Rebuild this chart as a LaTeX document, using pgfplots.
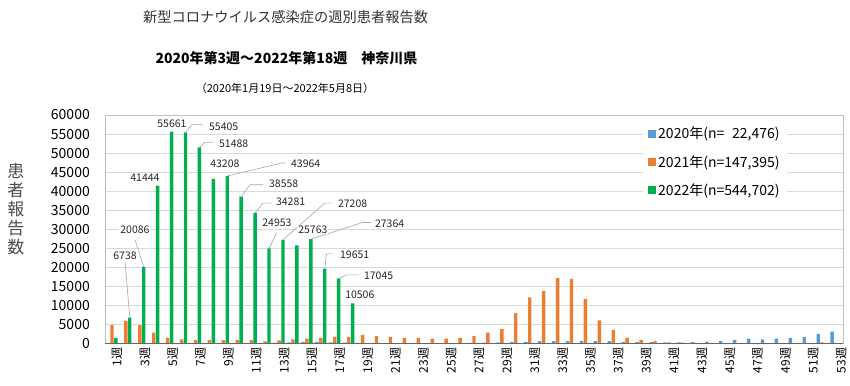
\documentclass[border=0pt]{standalone}
\usepackage{fontspec}
\setmainfont{Noto Sans CJK JP}
\usepackage{pgfplots}
\pgfplotsset{compat=1.18}
\usepackage{pgfplotstable}

\definecolor{c20}{HTML}{5B9BD5}
\definecolor{c21}{HTML}{ED7D31}
\definecolor{c22}{HTML}{00B050}
\definecolor{gridc}{HTML}{D9D9D9}
\definecolor{boxc}{HTML}{BFBFBF}
\definecolor{lead}{HTML}{A6A6A6}

% 2020 weekly counts
\pgfplotstableread{
w v
3 1
4 0
5 0
6 3
7 10
8 15
9 15
10 20
11 20
12 40
13 100
14 220
15 380
16 380
17 250
18 150
19 80
20 40
21 25
22 30
23 20
24 20
25 30
26 60
27 120
28 200
29 260
30 280
31 350
32 580
33 600
34 600
35 600
36 580
37 580
38 350
39 300
40 330
41 270
42 260
43 280
44 350
45 600
46 900
47 1200
48 1050
49 1200
50 1400
51 1700
52 2500
53 3100
}\dataA

% 2021 weekly counts
\pgfplotstableread{
w v
1 4800
2 5900
3 4800
4 2800
5 1400
6 1000
7 850
8 850
9 850
10 850
11 850
12 500
13 800
14 1000
15 1200
16 1400
17 1700
18 1700
19 2200
20 1900
21 1700
22 1400
23 1400
24 1200
25 1200
26 1400
27 1900
28 2800
29 3700
30 7900
31 12100
32 13700
33 17100
34 16900
35 11700
36 6000
37 3500
38 1400
39 900
40 550
41 250
42 150
43 80
44 60
45 50
46 50
47 50
48 50
49 60
50 70
51 100
52 250
}\dataB

% 2022 weekly counts
\pgfplotstableread{
w v
1 1379
2 6738
3 20086
4 41444
5 55661
6 55405
7 51488
8 43208
9 43964
10 38558
11 34281
12 24953
13 27208
14 25763
15 27364
16 19651
17 17045
18 10506
}\dataC

\begin{document}
\begin{tikzpicture}
\begin{axis}[
  at={(0,0)}, anchor=south west,
  scale only axis, width=738pt, height=228.3pt,
  ybar=0.5pt, bar width=3.4pt,
  xmin=0.5, xmax=53.5, ymin=0, ymax=60000,
  ytick={0,5000,...,60000},
  scaled y ticks=false,
  /pgf/number format/assume math mode=true,
  yticklabel style={/pgf/number format/1000 sep={}, font=\fontsize{14}{14}\selectfont, inner sep=0pt, xshift=-15pt},
  xtick={1,3,...,53},
  xticklabels={1週,3週,5週,7週,9週,11週,13週,15週,17週,19週,21週,23週,25週,27週,29週,31週,33週,35週,37週,39週,41週,43週,45週,47週,49週,51週,53週},
  xticklabel style={rotate=90, anchor=east, inner sep=0pt, yshift=-5pt, font=\fontsize{12}{12}\selectfont},
  tick style={draw=none},
  ymajorgrids, grid style={gridc, line width=0.8pt},
  axis line style={boxc, line width=0.8pt},
  legend style={at={(rel axis cs:0.729,0.975)}, anchor=north west, draw=none, fill=white,
    font=\fontsize{14}{14}\selectfont, row sep=11pt, inner xsep=5pt, inner ysep=4pt},
  legend cell align=left,
  legend image code/.code={\fill[#1,draw=none] (0pt,-4pt) rectangle (8pt,4pt);},
]
\addplot[fill=c20, draw=none] table[x=w,y=v]{\dataA};
\addlegendentry{2020年(n=\phantom{1}22,476)}
\addplot[fill=c21, draw=none] table[x=w,y=v]{\dataB};
\addlegendentry{2021年(n=147,395)}
\addplot[fill=c22, draw=none] table[x=w,y=v]{\dataC};
\addlegendentry{2022年(n=544,702)}

\draw[black!60, line width=0.8pt] (rel axis cs:0,0) -- (rel axis cs:1,0);

% leader lines
\draw[lead, line width=0.6pt] (axis cs:1.94,21477) -- (axis cs:2.28,6738);
\draw[lead, line width=0.6pt] (axis cs:2.65,27190) -- (axis cs:3.28,20086);
\draw[lead, line width=0.6pt] (axis cs:6.28,55405) -- (axis cs:6.74,57456) -- (axis cs:7.54,57456);
\draw[lead, line width=0.6pt] (axis cs:7.28,51488) -- (axis cs:7.67,52800) -- (axis cs:8.27,52800);
\draw[lead, line width=0.6pt] (axis cs:9.28,43964) -- (axis cs:13.18,47376) -- (axis cs:13.42,47376);
\draw[lead, line width=0.6pt] (axis cs:10.28,38558) -- (axis cs:10.91,41666) -- (axis cs:11.86,41666);
\draw[lead, line width=0.6pt] (axis cs:11.28,34281) -- (axis cs:11.86,36848) -- (axis cs:12.46,36848);
\draw[lead, line width=0.6pt] (axis cs:12.28,24953) -- (axis cs:12.82,28952);
\draw[lead, line width=0.6pt] (axis cs:13.28,27208) -- (axis cs:16.29,36848) -- (axis cs:16.77,36848);
\draw[lead, line width=0.6pt] (axis cs:15.28,27364) -- (axis cs:19.0,31750) -- (axis cs:19.6,31750);
\draw[lead, line width=0.6pt] (axis cs:16.28,19651) -- (axis cs:16.41,23500) -- (axis cs:16.88,23500);
\draw[lead, line width=0.6pt] (axis cs:17.28,17045) -- (axis cs:17.89,17977) -- (axis cs:18.73,17977);

% data labels
\begin{scope}[every node/.style={font=\fontsize{10.5}{10.5}\selectfont, inner sep=0pt, fill=white, inner xsep=1pt, text=black!85}]
\node at (axis cs:1.94,22977) {6738};
\node at (axis cs:2.65,29820) {20086};
\node at (axis cs:3.37,43507) {41444};
\node at (axis cs:5.31,57720) {55661};
\node[anchor=west] at (axis cs:7.89,57010) {55405};
\node[anchor=west] at (axis cs:8.61,52377) {51488};
\node at (axis cs:9.11,47113) {43208};
\node[anchor=west] at (axis cs:13.78,47192) {43964};
\node[anchor=west] at (axis cs:12.2,41928) {38558};
\node[anchor=west] at (axis cs:12.7,37269) {34281};
\node at (axis cs:12.85,31584) {24953};
\node[anchor=west] at (axis cs:17.15,36585) {27208};
\node at (axis cs:15.43,29820) {25763};
\node[anchor=west] at (axis cs:19.81,31400) {27364};
\node[anchor=west] at (axis cs:17.3,23162) {19651};
\node[anchor=west] at (axis cs:19.02,17713) {17045};
\node at (axis cs:18.8,12713) {10506};
\end{scope}
\end{axis}

% titles
\node[font=\fontsize{14.25}{14.25}\selectfont, text=black!80] at (180.5pt,326.6pt) {新型コロナウイルス感染症の週別患者報告数};
\node[font=\bfseries\fontsize{14}{14}\selectfont] at (181.5pt,285pt) {2020年第3週～2022年第18週　神奈川県};
\node[font=\fontsize{11}{11}\selectfont] at (180pt,255pt) {（2020年1月19日～2022年5月8日）};
\node[align=center, font=\fontsize{17}{19}\selectfont, text=black!70] at (-89pt,134.3pt) {患\\者\\報\\告\\数};

\pgfresetboundingbox
\useasboundingbox (-105pt,-41.7pt) rectangle (745pt,343.3pt);
\end{tikzpicture}
\end{document}
